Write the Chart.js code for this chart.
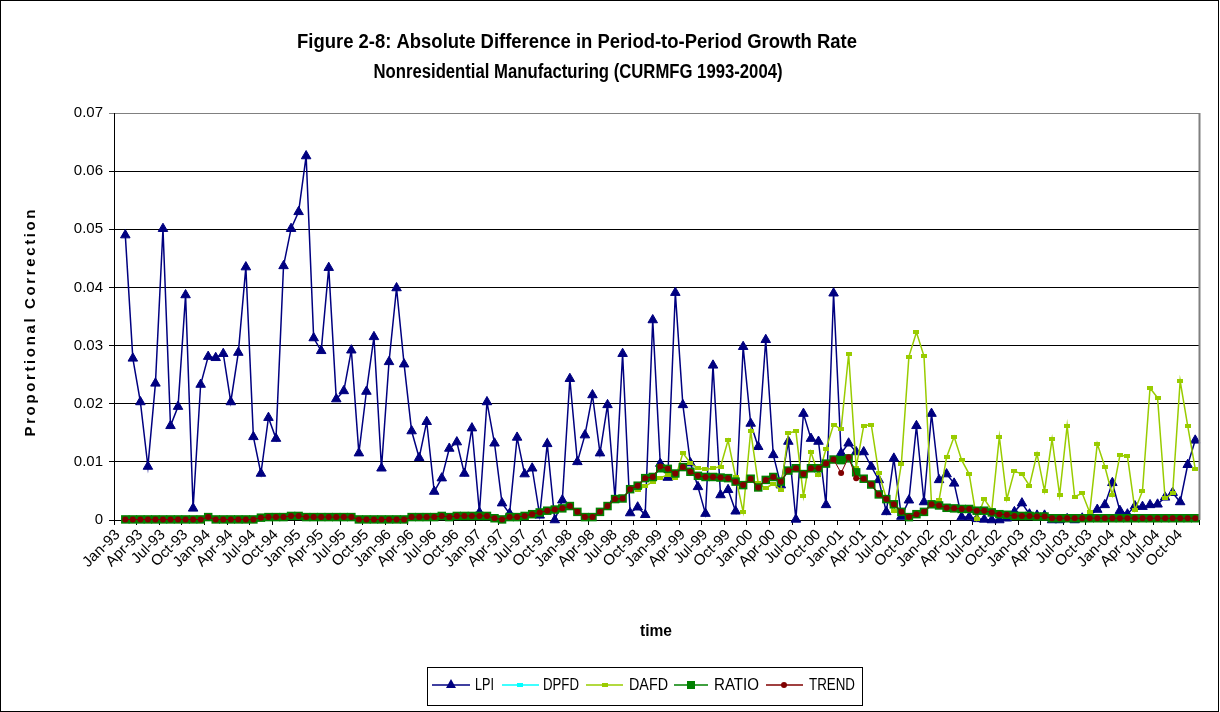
<!DOCTYPE html>
<html>
<head>
<meta charset="utf-8">
<script src="https://cdn.jsdelivr.net/npm/chart.js@4.4.1/dist/chart.umd.min.js"></script>
<style>
html,body{margin:0;padding:0;background:#fff;}
#wrap{width:1220px;height:712px;position:relative;overflow:hidden;}
</style>
</head>
<body>
<div id="wrap"><canvas id="c" width="1220" height="712"></canvas></div>
<script>
// ---------- categories / tick labels ----------
const monthNames = ['Jan','Feb','Mar','Apr','May','Jun','Jul','Aug','Sep','Oct','Nov','Dec'];
const yearNames = ['93','94','95','96','97','98','99','00','01','02','03','04'];
const categories = [];
for (const y of yearNames) for (const m of monthNames) categories.push(m + '-' + y);
const yTickLabels = ['0','0.01','0.02','0.03','0.04','0.05','0.06','0.07'];

// ---------- series (Jan-93 .. Dec-04, first month empty) ----------
const lpi = [null,
 0.049,0.0278,0.0203,0.0092,0.0235,0.0501,0.0162,0.0195,0.0387,0.002,
 0.0233,0.0281,0.0279,0.0286,0.0203,0.0288,0.0435,0.0143,0.008,0.0176,
 0.014,0.0437,0.0501,0.053,0.0626,0.0313,0.0291,0.0434,0.0208,0.0222,
 0.0292,0.0115,0.0221,0.0315,0.0089,0.0272,0.0399,0.0268,0.0153,0.0107,
 0.0169,0.0049,0.0072,0.0123,0.0134,0.008,0.0158,0.0013,0.0203,0.0132,
 0.0029,0.0011,0.0142,0.0079,0.0089,0.0008,0.0131,0.0,0.0034,0.0243,
 0.01,0.0146,0.0215,0.0115,0.0198,0.0036,0.0286,0.0012,0.0022,0.0009,
 0.0344,0.0097,0.0073,0.0391,0.0198,0.0098,0.0057,0.0011,0.0266,0.0043,
 0.0052,0.0015,0.0298,0.0166,0.0126,0.031,0.0112,0.006,0.0135,0.0001,
 0.0183,0.014,0.0135,0.0026,0.039,0.0115,0.0132,0.0117,0.0117,0.0092,
 0.0069,0.0014,0.0106,0.0006,0.0034,0.0162,0.0031,0.0183,0.0069,0.0079,
 0.0063,0.0005,0.0005,0.0002,0.0001,0.0,0.0,0.0003,0.0014,0.0029,
 0.001,0.0008,0.0008,0.0,0.0,0.0002,0.0,0.0003,0.0008,0.0018,
 0.0026,0.0064,0.0016,0.001,0.0024,0.0023,0.0026,0.0027,0.0039,0.0047,
 0.0031,0.0095,0.0137];

const trend = [null,
 0.0001,0.0001,0.0001,0.0001,0.0001,0.0001,0.0001,0.0001,0.0001,0.0001,
 0.0001,0.0005,0.0001,0.0001,0.0001,0.0001,0.0001,0.0001,0.0004,0.0005,
 0.0005,0.0005,0.0007,0.0007,0.0005,0.0005,0.0005,0.0005,0.0005,0.0005,
 0.0005,0.0001,0.0001,0.0001,0.0001,0.0001,0.0001,0.0001,0.0005,0.0005,
 0.0005,0.0005,0.0007,0.0005,0.0007,0.0007,0.0007,0.0007,0.0007,0.0003,
 0.0001,0.0005,0.0005,0.0007,0.001,0.0013,0.0016,0.0018,0.002,0.0024,
 0.0014,0.0005,0.0005,0.0014,0.0024,0.0036,0.0037,0.0053,0.0059,0.0072,
 0.0074,0.0092,0.0088,0.008,0.0091,0.0083,0.0076,0.0074,0.0074,0.0073,
 0.0072,0.0066,0.006,0.0071,0.0056,0.0069,0.0074,0.0066,0.0085,0.0089,
 0.0079,0.0089,0.0089,0.0097,0.0104,0.0081,0.0108,0.0072,0.0071,0.0061,
 0.0044,0.0036,0.0027,0.0014,0.0005,0.001,0.0014,0.0027,0.0025,0.0021,
 0.002,0.0019,0.0019,0.0016,0.0016,0.0013,0.001,0.0009,0.0007,0.0007,
 0.0007,0.0006,0.0006,0.0003,0.0003,0.0003,0.0003,0.0003,0.0003,0.0003,
 0.0003,0.0003,0.0003,0.0003,0.0003,0.0003,0.0003,0.0003,0.0003,0.0003,
 0.0003,0.0003,0.0003];

const ratio = [null,
 0.0001,0.0001,0.0001,0.0001,0.0001,0.0001,0.0001,0.0001,0.0001,0.0001,
 0.0001,0.0005,0.0001,0.0001,0.0001,0.0001,0.0001,0.0001,0.0004,0.0005,
 0.0005,0.0005,0.0007,0.0007,0.0005,0.0005,0.0005,0.0005,0.0005,0.0005,
 0.0005,0.0001,0.0001,0.0001,0.0001,0.0001,0.0001,0.0001,0.0005,0.0005,
 0.0005,0.0005,0.0007,0.0005,0.0007,0.0007,0.0007,0.0007,0.0007,0.0003,
 0.0001,0.0005,0.0005,0.0007,0.001,0.0013,0.0016,0.0018,0.002,0.0024,
 0.0014,0.0005,0.0005,0.0014,0.0024,0.0036,0.0037,0.0053,0.0059,0.0072,
 0.0074,0.0089,0.0088,0.008,0.0091,0.0083,0.0076,0.0074,0.0074,0.0073,
 0.0072,0.0066,0.006,0.0071,0.0056,0.0069,0.0074,0.0066,0.0085,0.0089,
 0.0079,0.0089,0.0089,0.0097,0.0104,0.0103,0.0106,0.0082,0.0071,0.0061,
 0.0044,0.0036,0.0027,0.0014,0.0005,0.001,0.0014,0.0027,0.0025,0.0021,
 0.002,0.0019,0.0019,0.0016,0.0016,0.0013,0.001,0.0009,0.0007,0.0007,
 0.0007,0.0006,0.0006,0.0003,0.0003,0.0003,0.0003,0.0003,0.0003,0.0003,
 0.0003,0.0003,0.0003,0.0003,0.0003,0.0003,0.0003,0.0003,0.0003,0.0003,
 0.0003,0.0003,0.0003];

const dpfd = [null,
 0.0001,0.0001,0.0001,0.0001,0.0001,0.0001,0.0001,0.0001,0.0001,0.0001,
 0.0001,0.0005,0.0001,0.0001,0.0001,0.0001,0.0001,0.0001,0.0004,0.0005,
 0.0005,0.0005,0.0007,0.0007,0.0005,0.0005,0.0005,0.0005,0.0005,0.0005,
 0.0005,0.0001,0.0001,0.0001,0.0001,0.0001,0.0001,0.0001,0.0005,0.0005,
 0.0005,0.0005,0.0007,0.0005,0.0007,0.0007,0.0007,0.0007,0.0007,0.0003,
 0.0001,0.0005,0.0005,0.0007,0.001,0.0013,0.0016,0.0018,0.002,0.0024,
 0.0014,0.0005,0.0005,0.0014,0.0024,0.0036,0.0037,0.0053,0.0059,0.0072,
 0.0074,0.0089,0.0088,0.008,0.0091,0.0083,0.0076,0.0074,0.0074,0.0073,
 0.0072,0.0066,0.006,0.0071,0.0056,0.0069,0.0074,0.0066,0.0085,0.0089,
 0.0079,0.0089,0.0089,0.0097,0.0104,0.0103,0.0106,0.0082,0.0071,0.0061,
 0.0044,0.0036,0.0027,0.0014,0.0005,0.001,0.0014,0.0027,0.0025,0.0021,
 0.002,0.0019,0.0019,0.0016,0.0016,0.0013,0.001,0.0009,0.0007,0.0007,
 0.0007,0.0006,0.0006,0.0003,0.0003,0.0003,0.0003,0.0003,0.0003,0.0003,
 0.0003,0.0003,0.0003,0.0003,0.0003,0.0003,0.0003,0.0003,0.0003,0.0003,
 0.0003,0.0003,0.0003];

const dafd = [null,
 0.0001,0.0001,0.0001,0.0001,0.0001,0.0001,0.0001,0.0001,0.0001,0.0001,
 0.0001,0.0005,0.0001,0.0001,0.0001,0.0001,0.0001,0.0001,0.0004,0.0005,
 0.0005,0.0005,0.0007,0.0007,0.0005,0.0005,0.0005,0.0005,0.0005,0.0005,
 0.0005,0.0001,0.0001,0.0001,0.0001,0.0001,0.0001,0.0001,0.0005,0.0005,
 0.0005,0.0005,0.0007,0.0005,0.0007,0.0007,0.0007,0.0007,0.0007,0.0003,
 0.0001,0.0005,0.0005,0.0007,0.001,0.0013,0.0016,0.0018,0.002,0.0024,
 0.0014,0.0005,0.0005,0.0014,0.0024,0.0036,0.0037,0.0053,0.0052,0.0058,
 0.0066,0.0072,0.0078,0.0072,0.0115,0.0098,0.0089,0.0087,0.0089,0.0092,
 0.0137,0.0074,0.0014,0.0153,0.0063,0.0055,0.0062,0.0052,0.0149,0.0153,
 0.0041,0.0117,0.0077,0.0122,0.0164,0.0156,0.0285,0.009,0.0162,0.0164,
 0.0081,0.0037,0.0015,0.0097,0.0281,0.0323,0.0282,0.0028,0.0034,0.0108,
 0.0143,0.0103,0.0079,0.0001,0.0036,0.0017,0.0143,0.0036,0.0084,0.0079,
 0.0059,0.0114,0.005,0.0139,0.0043,0.0162,0.004,0.0046,0.0013,0.0131,
 0.0092,0.0043,0.0111,0.011,0.0017,0.005,0.0227,0.021,0.0037,0.0046,
 0.0239,0.0162,0.0088];

const seriesNames = ['LPI','DPFD','DAFD','RATIO','TREND'];
const seriesColors = ['#000080','#00FFFF','#99CC00','#008000','#800000'];

// ---------- fonts ----------
function hasFont(name){
  const c = document.createElement('canvas').getContext('2d');
  const t = 'abcdefghijklmnopqrstuvwxyz0123456789ABCDEF';
  c.font = '16px monospace'; const a = c.measureText(t).width;
  c.font = '16px "' + name + '", monospace'; const b = c.measureText(t).width;
  c.font = '16px serif'; const a2 = c.measureText(t).width;
  c.font = '16px "' + name + '", serif'; const b2 = c.measureText(t).width;
  return (a !== b) || (a2 !== b2);
}
const NARROW_OK = hasFont('Liberation Sans Narrow');
const FAMILY = NARROW_OK ? '"Liberation Sans Narrow", "Liberation Sans", sans-serif' : '"Liberation Sans", Arial, sans-serif';
const TICK_SIZE = NARROW_OK ? 18 : 15;

// ---------- marker images ----------
function dashImg(color){
  const c = document.createElement('canvas'); c.width = 6; c.height = 4;
  const g = c.getContext('2d'); g.fillStyle = color; g.fillRect(0,0,6,4); return c;
}
const dpfdMarker = dashImg('#00FFFF');
const dafdMarker = dashImg('#99CC00');

// ---------- helpers ----------
function fitText(ctx, text, x, y, width, font, align){
  ctx.save();
  ctx.font = font;
  const w = ctx.measureText(text).width;
  const s = width / w;
  ctx.translate(x, y);
  ctx.scale(s, 1);
  ctx.textAlign = align || 'center';
  ctx.textBaseline = 'middle';
  ctx.fillText(text, 0, 0);
  ctx.restore();
}

const decor = {
  id: 'decor',
  beforeDraw(chart){
    const ctx = chart.ctx;
    ctx.save(); ctx.fillStyle = '#fff'; ctx.fillRect(0,0,chart.width,chart.height); ctx.restore();
  },
  afterDraw(chart){
    const ctx = chart.ctx, a = chart.chartArea;
    ctx.save();
    // plot area right border
    ctx.strokeStyle = '#808080'; ctx.lineWidth = 2;
    ctx.beginPath(); ctx.moveTo(a.right + 0.5, a.top); ctx.lineTo(a.right + 0.5, a.bottom); ctx.stroke();
    // outer border
    ctx.strokeStyle = '#000'; ctx.lineWidth = 1;
    ctx.strokeRect(0.5, 0.5, chart.width - 2, chart.height - 1);
    // title
    ctx.fillStyle = '#000';
    fitText(ctx, 'Figure 2-8: Absolute Difference in Period-to-Period Growth Rate', 577, 42, 560, 'bold 20px ' + FAMILY);
    fitText(ctx, 'Nonresidential Manufacturing (CURMFG 1993-2004)', 578, 72, 409, 'bold 20px ' + FAMILY);
    // axis titles
    fitText(ctx, 'time', 656, 632, 32, 'bold 16px ' + FAMILY);
    ctx.save();
    ctx.translate(31, 323);
    ctx.rotate(-Math.PI/2);
    ctx.font = 'bold 15px ' + FAMILY;
    const yt = 'Proportional Correction';
    const w0 = ctx.measureText(yt).width;
    const sp = Math.max(0, (227 - w0) / (yt.length - 1));
    ctx.textAlign = 'left'; ctx.textBaseline = 'middle';
    let cx = -113.5;
    for (const ch of yt){ ctx.fillText(ch, cx, 0); cx += ctx.measureText(ch).width + sp; }
    ctx.restore();
    // legend box
    ctx.strokeStyle = '#000'; ctx.lineWidth = 1;
    ctx.strokeRect(427.5, 667.5, 435, 38);
    const ly = 685;
    const items = [
      {x1:432, x2:470, mx:451, tx:475, tw:19},
      {x1:502, x2:539, mx:520, tx:543, tw:36},
      {x1:586, x2:623, mx:605, tx:629, tw:39},
      {x1:674, x2:708, mx:691, tx:714, tw:45},
      {x1:766, x2:803, mx:784, tx:809, tw:46}
    ];
    items.forEach((it, k) => {
      const col = seriesColors[k];
      ctx.strokeStyle = col; ctx.lineWidth = 1.5;
      ctx.beginPath(); ctx.moveTo(it.x1, ly); ctx.lineTo(it.x2, ly); ctx.stroke();
      ctx.fillStyle = col;
      if (k === 0){
        ctx.beginPath(); ctx.moveTo(it.mx, ly - 6); ctx.lineTo(it.mx + 5, ly + 3); ctx.lineTo(it.mx - 5, ly + 3); ctx.closePath(); ctx.fill();
      } else if (k === 1 || k === 2){
        ctx.fillRect(it.mx - 3, ly - 2, 6, 4);
      } else if (k === 3){
        ctx.fillRect(it.mx - 4, ly - 4, 8, 8);
      } else {
        ctx.beginPath(); ctx.arc(it.mx, ly, 3, 0, Math.PI*2); ctx.fill();
      }
      ctx.fillStyle = '#000';
      fitText(ctx, seriesNames[k], it.tx, ly, it.tw, '17px ' + FAMILY, 'left');
    });
    ctx.restore();
  }
};

const ctx = document.getElementById('c').getContext('2d');
new Chart(ctx, {
  type: 'line',
  data: {
    labels: categories,
    datasets: [
      { label: seriesNames[0], data: lpi, borderColor: seriesColors[0], backgroundColor: seriesColors[0],
        borderWidth: 1.5, pointStyle: 'triangle', pointRadius: 5.5, pointBorderWidth: 1,
        pointBackgroundColor: seriesColors[0], pointBorderColor: seriesColors[0], tension: 0, clip: false, order: 5 },
      { label: seriesNames[1], data: dpfd, borderColor: seriesColors[1], backgroundColor: seriesColors[1],
        borderWidth: 1.5, pointStyle: dpfdMarker, pointRadius: 3, tension: 0, clip: false, order: 4 },
      { label: seriesNames[2], data: dafd, borderColor: seriesColors[2], backgroundColor: seriesColors[2],
        borderWidth: 1.5, pointStyle: dafdMarker, pointRadius: 3, tension: 0, clip: false, order: 3 },
      { label: seriesNames[3], data: ratio, borderColor: seriesColors[3], backgroundColor: seriesColors[3],
        borderWidth: 1.5, pointStyle: 'rect', pointRadius: 6, pointBorderWidth: 0,
        pointBackgroundColor: seriesColors[3], pointBorderColor: seriesColors[3], tension: 0, clip: false, order: 2 },
      { label: seriesNames[4], data: trend, borderColor: seriesColors[4], backgroundColor: seriesColors[4],
        borderWidth: 1, pointStyle: 'circle', pointRadius: 3, pointBorderWidth: 0,
        pointBackgroundColor: seriesColors[4], pointBorderColor: seriesColors[4], tension: 0, clip: false, order: 1 }
    ]
  },
  options: {
    responsive: false,
    animation: false,
    devicePixelRatio: 1,
    layout: { padding: { top: 113, right: 21, left: 0, bottom: 0 } },
    plugins: { legend: { display: false }, title: { display: false }, tooltip: { enabled: false } },
    scales: {
      x: {
        type: 'category',
        offset: true,
        grid: { offset: true, drawOnChartArea: false, tickLength: 5, lineWidth: 1,
                color: c => (c.type === 'scale' || c.index === undefined || c.index % 3 === 0) ? '#000' : 'rgba(0,0,0,0)' },
        border: { display: true, color: '#000', width: 1 },
        ticks: { autoSkip: false, maxRotation: 45, minRotation: 45, color: '#000', padding: 1,
                 font: { family: FAMILY, size: TICK_SIZE },
                 callback: (v, i) => (i % 3 === 0 ? categories[i] : '') },
        afterFit: s => { s.height = 192; }
      },
      y: {
        min: 0, max: 0.07,
        ticks: { stepSize: 0.01, color: '#000', padding: 6, font: { family: FAMILY, size: TICK_SIZE },
                 callback: v => yTickLabels[Math.round(v * 100)] },
        grid: { tickLength: 5, lineWidth: 1,
                color: c => (c.tick && Math.abs(c.tick.value - 0.07) < 1e-9) ? '#808080' : '#000' },
        border: { display: true, color: '#000', width: 1 },
        afterFit: s => { s.width = 114; }
      }
    }
  },
  plugins: [decor]
});
</script>
</body>
</html>
